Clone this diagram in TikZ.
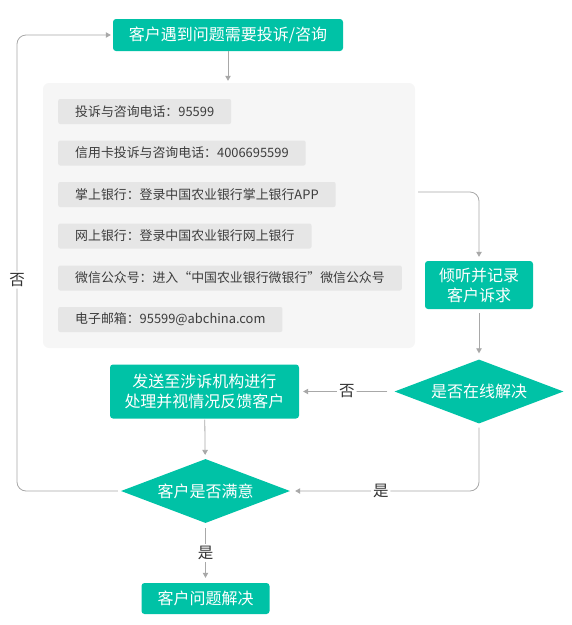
\documentclass[tikz,border=0pt]{standalone}
\usepackage{fontspec}
\setmainfont{Noto Sans CJK SC}
\usetikzlibrary{shapes.geometric,arrows.meta}
\definecolor{abcgreen}{HTML}{00C2A6}
\definecolor{panelgray}{HTML}{F6F6F6}
\definecolor{boxgray}{HTML}{E6E6E6}
\definecolor{infotext}{HTML}{3C3C3C}
\definecolor{linegray}{HTML}{A8A8A8}
\definecolor{labeltext}{HTML}{333333}
\begin{document}
\begin{tikzpicture}[->,>={Triangle[length=5pt,width=5.5pt]},x=1pt,y=-1pt]
    \tikzstyle{proc}=[fill=abcgreen,text=white,rounded corners=3pt,font=\fontsize{16}{20}\selectfont,align=center,inner sep=0pt];
    \tikzstyle{decide}=[diamond,aspect=2.6,fill=abcgreen,text=white,font=\fontsize{16}{20}\selectfont,minimum width=169pt,minimum height=64pt,inner sep=1pt];
    \tikzstyle{info}=[fill=boxgray,text=infotext,rounded corners=2pt,font=\fontsize{12.9}{15}\selectfont,inner xsep=17pt,minimum height=25pt,anchor=west];
    \tikzstyle{link}=[draw=linegray,line width=0.8pt,rounded corners=9pt];
    \tikzstyle{lbl}=[fill=white,text=labeltext,font=\fontsize{15.5}{18}\selectfont,inner sep=2pt];
    \useasboundingbox (0,0) rectangle (572,625);

    \node at (228, 35)    (ask)     [proc,minimum width=230pt,minimum height=32pt] {客户遇到问题需要投诉/咨询};
    \node at (229, 215.5) (panel)   [fill=panelgray,rounded corners=6pt,minimum width=372pt,minimum height=265pt] {};
    \node at (58, 111.5)  (tel)     [info] {投诉与咨询电话：95599};
    \node at (58, 153)    (card)    [info] {信用卡投诉与咨询电话：4006695599};
    \node at (58, 194.5)  (mobile)  [info] {掌上银行：登录中国农业银行掌上银行APP};
    \node at (58, 236)    (web)     [info] {网上银行：登录中国农业银行网上银行};
    \node at (58, 278)    (wechat)  [info] {微信公众号：进入“中国农业银行微银行”微信公众号};
    \node at (58, 319.5)  (mail)    [info] {电子邮箱：95599@abchina.com};
    \node at (479, 285)   (listen)  [proc,minimum width=108pt,minimum height=48pt] {倾听并记录\\客户诉求};
    \node at (479, 391.5) (online)  [decide] {是否在线解决};
    \node at (204.5, 391.5) (send)  [proc,minimum width=189pt,minimum height=54pt] {发送至涉诉机构进行\\处理并视情况反馈客户};
    \node at (205.5, 491) (satisfy) [decide] {客户是否满意};
    \node at (205.5, 598.5) (solved) [proc,minimum width=128pt,minimum height=31pt] {客户问题解决};
    \coordinate (turn) at (418, 192);
    \coordinate (lft) at (17, 280);

    \draw[link,shorten >=2pt] (ask) -- (ask |- panel.north);
    \draw[link,shorten >=4pt] (turn) -| (listen);
    \draw[link,shorten >=6pt,shorten <=4pt] (listen) -- (online);
    \draw[link,shorten >=4pt,shorten <=7pt] (online) -- node[lbl] {否} (send);
    \draw[link,shorten >=4pt,shorten <=1pt] (send) -- (satisfy);
    \draw[link,shorten >=5pt,shorten <=4pt] (online) |- node[lbl,pos=0.76] {是} (satisfy);
    \draw[link,shorten >=2pt,shorten <=3pt] (satisfy) -| (lft) node[lbl] {否} |- (ask);
    \draw[link,shorten >=5pt,shorten <=5pt] (satisfy) -- node[lbl] {是} (solved);
\end{tikzpicture}
\end{document}
